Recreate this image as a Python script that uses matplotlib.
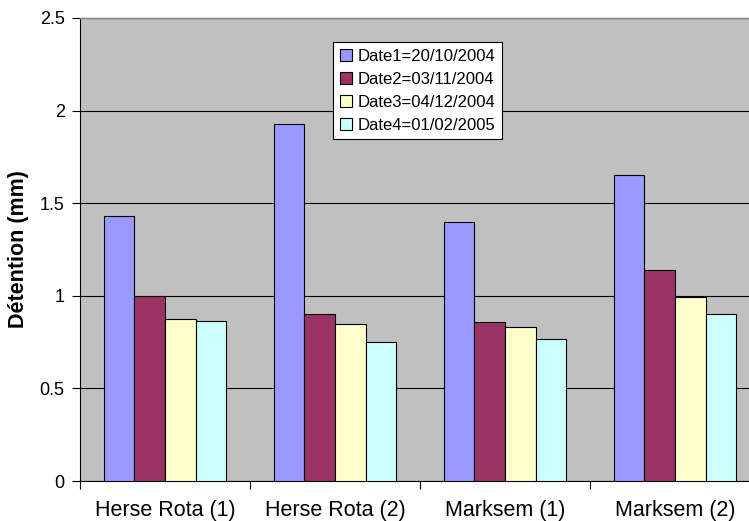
import matplotlib
matplotlib.use("Agg")
import matplotlib.pyplot as plt
import numpy as np

plt.rcParams['font.family'] = ['Liberation Sans', 'DejaVu Sans']

categories = ["Herse Rota (1)", "Herse Rota (2)", "Marksem (1)", "Marksem (2)"]
series_names = ["Date1=20/10/2004", "Date2=03/11/2004", "Date3=04/12/2004", "Date4=01/02/2005"]
date1 = [1.43, 1.93, 1.40, 1.65]
date2 = [1.00, 0.90, 0.86, 1.14]
date3 = [0.875, 0.85, 0.83, 0.995]
date4 = [0.865, 0.75, 0.765, 0.90]
colors = ["#9999FF", "#993366", "#FFFFCC", "#CCFFFF"]
yticks = [0, 0.5, 1, 1.5, 2, 2.5]
ytick_labels = ["0", "0.5", "1", "1.5", "2", "2.5"]

series = [date1, date2, date3, date4]

fig = plt.figure(figsize=(7.49, 5.21), dpi=100)
ax = fig.add_axes([80/749, 1-481/521, 669/749, 463/521])
ax.set_facecolor("#C0C0C0")

x = np.arange(len(categories))
w = 0.18
for i, (vals, name, c) in enumerate(zip(series, series_names, colors)):
    ax.bar(x + (i - 1.5) * w, vals, width=w, color=c, edgecolor="black",
           linewidth=0.8, label=name, zorder=3)

ax.set_xlim(-0.5, -0.5 + 669/170)
ax.set_ylim(0, 2.5)
ax.set_yticks(yticks)
ax.set_yticklabels(ytick_labels, fontsize=13)
ax.yaxis.grid(True, color="black", linewidth=0.8, zorder=0)
ax.set_axisbelow(True)

ax.set_xticks(x)
ax.set_xticklabels(categories, fontsize=15.5)
ax.tick_params(axis='x', which='major', length=0, pad=14)
ax.set_xticks(np.arange(-0.5, 3.5, 1.0), minor=True)
ax.tick_params(axis='x', which='minor', length=6, width=0.8, direction='out')
ax.tick_params(axis='y', length=6, width=0.8, direction='out', pad=5)

ax.set_ylabel("Détention (mm)", fontsize=15.5, fontweight='bold', labelpad=8)

ax.spines["right"].set_visible(False)
for s in ["left", "bottom"]:
    ax.spines[s].set_color("black")
    ax.spines[s].set_linewidth(0.8)
ax.spines["top"].set_color("#808080")
ax.spines["top"].set_linewidth(1.0)

leg = ax.legend(loc="upper left", bbox_to_anchor=((333-80)/669, (481-42)/463),
                borderaxespad=0, fontsize=12, frameon=True, fancybox=False,
                handlelength=0.75, handleheight=0.75, handletextpad=0.3,
                labelspacing=0.48, borderpad=0.4, edgecolor="black")
leg.get_frame().set_linewidth(0.8)
leg.get_frame().set_facecolor("white")
leg.get_frame().set_alpha(1)

fig.savefig("out.png", dpi=100)
